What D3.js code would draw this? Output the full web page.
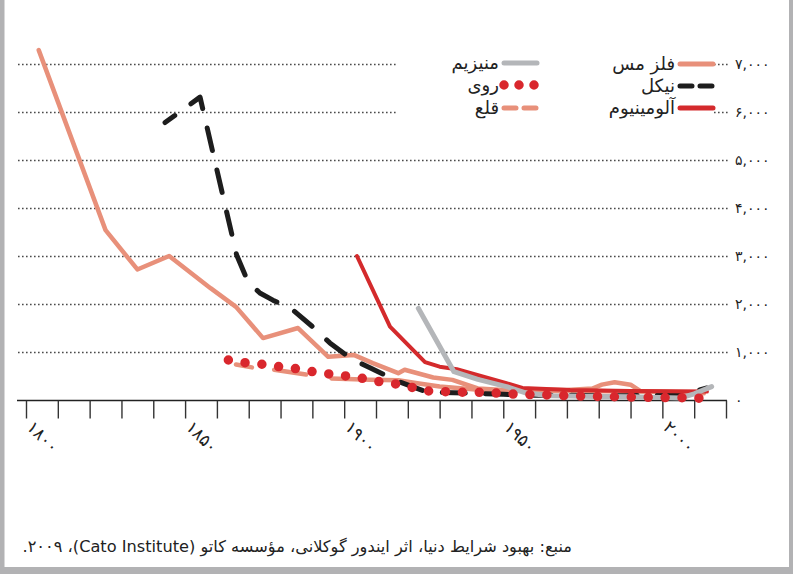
<!DOCTYPE html>
<html>
<head>
<meta charset="utf-8">
<script src="https://cdn.jsdelivr.net/npm/d3@7"></script>
<style>
  html, body { margin: 0; padding: 0; background: #fff; }
  svg { display: block; }
</style>
</head>
<body>
<svg id="chart" width="793" height="574"></svg>
<script>
// ---- data -------------------------------------------------------------
const tickYears  = d3.range(1800, 2021, 10);
const labelYears = [1800, 1850, 1900, 1950, 2000];
const priceTicks = [0, 1000, 2000, 3000, 4000, 5000, 6000, 7000];

const copperYears  = [1804, 1825, 1835, 1845, 1858, 1866, 1874.5, 1885.5, 1895, 1903, 1909, 1917, 1919, 1928, 1934, 1942, 1950, 1960, 1970, 1978, 1981, 1985, 1990, 1993, 2000, 2013];
const copperPrices = [7300, 3550, 2730, 3010, 2340, 1950, 1300, 1510, 910, 950, 780, 570, 640, 480, 430, 250, 220, 230, 220, 250, 330, 380, 330, 200, 180, 150];

const nickelYears  = [1843.7, 1854.7, 1866.2, 1869.8, 1873.5, 1877.6, 1883.9, 1890.2, 1895.5, 1901.8, 1908.1, 1917.5, 1925, 1930, 1940, 1950, 1960, 1970, 1980, 1990, 2000, 2008, 2014];
const nickelPrices = [5790, 6320, 3030, 2470, 2240, 2090, 1885, 1530, 1200, 885, 680, 385, 200, 170, 150, 130, 110, 110, 100, 100, 110, 150, 260];

const aluminiumYears  = [1904, 1914.4, 1925.4, 1930, 1935.4, 1951, 1956, 1971, 1990, 2014];
const aluminiumPrices = [3010, 1540, 800, 705, 650, 360, 260, 220, 200, 185];

const magnesiumYears  = [1923.3, 1934.5, 1942, 1951, 1957.5, 1965, 1975, 1990, 2005.5, 2010, 2015.5];
const magnesiumPrices = [1920, 600, 440, 290, 150, 100, 90, 80, 50, 140, 290];

const zincYears  = [1863.6, 1868.8, 1874.3, 1879.6, 1884.8, 1890.1, 1895.3, 1900.6, 1905.8, 1911, 1916.3, 1921.2, 1926.4, 1932.2, 1937.4, 1943.2, 1949, 1954.3, 1964.2, 1974.9, 1985.7, 1995.8, 2006.1, 2013.1];
const zincPrices = [844, 788, 754, 704, 663, 600, 552, 510, 460, 392, 344, 275, 198, 183, 171, 171, 150, 129, 115, 90, 77, 65, 58, 46];

// gaps in the tin record are marked with null
const tinYears  = [1866, 1871, null, 1878, 1888, null, 1896, 1908, 1917, 1923, 1930, 1945, 1960, 1975, 2000, 2013];
const tinPrices = [750, 690, null, 640, 540, null, 460, 430, 420, 360, 290, 210, 200, 200, 180, 170];

const seriesNames = ["فلز مس", "نیکل", "آلومینیوم", "منیزیم", "روی", "قلع"];
const sourceText = "منبع: بهبود شرایط دنیا، اثر ایندور گوکلانی، مؤسسه کاتو (Cato Institute)، ۲۰۰۹.";

// ---- helpers ----------------------------------------------------------
const faDigits = "۰۱۲۳۴۵۶۷۸۹";
const toFa = s => String(s).replace(/[0-9]/g, d => faDigits[+d]);
const zip = (xs, ys) => xs.map((x, i) => ({ year: x, value: ys[i] }));

const COPPER = "#e8907a", NICKEL = "#1d1d1d", ALUM = "#d42a2c",
      MAGNES = "#b4b6b9", ZINC = "#d9272d", GRID = "#4a4a4a";
const FONT = "'DejaVu Sans', sans-serif";

const svg = d3.select("#chart");
svg.append("rect").attr("width", 793).attr("height", 574).attr("fill", "#fff");

const x = d3.scaleLinear().domain([1800, 2020]).range([26, 726]);
const y = d3.scaleLinear().domain([0, 7000]).range([400.5, 64.5]);

// ---- frame ------------------------------------------------------------
const frame = svg.append("g").attr("fill", "#b2b2b4");
frame.append("rect").attr("x", 0).attr("y", 0).attr("width", 4.5).attr("height", 574);
frame.append("rect").attr("x", 789).attr("y", 0).attr("width", 4).attr("height", 574);
frame.append("rect").attr("x", 0).attr("y", 567).attr("width", 793).attr("height", 7);

// ---- horizontal dotted grid ---------------------------------------------
svg.append("g")
  .selectAll("line")
  .data(priceTicks.filter(d => d > 0))
  .join("line")
  .attr("x1", 18).attr("x2", 728)
  .attr("y1", d => y(d)).attr("y2", d => y(d))
  .attr("stroke", GRID).attr("stroke-width", 1.3)
  .attr("stroke-dasharray", "1.6 2.4");

// value labels on the right
svg.append("g")
  .selectAll("text")
  .data(priceTicks)
  .join("text")
  .attr("x", 735).attr("y", d => y(d))
  .attr("dy", "0.35em")
  .attr("font-family", FONT).attr("font-size", 14).attr("fill", "#222")
  .attr("letter-spacing", 1.2)
  .attr("direction", "ltr")
  .text(d => toFa(d3.format(",")(d)));

// ---- x axis ---------------------------------------------------------------
const xAxis = d3.axisBottom(x)
  .tickValues(tickYears)
  .tickSize(18)
  .tickSizeOuter(0)
  .tickFormat("");
const axisG = svg.append("g").attr("transform", "translate(0,400.5)").call(xAxis);
axisG.select(".domain").attr("d", "M17,0H727").attr("stroke", "#222").attr("stroke-width", 1.6);
axisG.selectAll(".tick line").attr("stroke", "#333").attr("stroke-width", 1.4);

svg.append("g")
  .selectAll("text")
  .data(labelYears)
  .join("text")
  .attr("transform", d => `translate(${x(d) + 4},${424}) rotate(45)`)
  .attr("dy", "0.35em")
  .attr("font-family", FONT).attr("font-size", 17).attr("fill", "#222")
  .attr("letter-spacing", 3)
  .attr("direction", "ltr")
  .text(d => toFa(d));

// ---- series -------------------------------------------------------------
const line = d3.line()
  .defined(d => d.year !== null && d.value !== null)
  .x(d => x(d.year)).y(d => y(d.value));

const plot = svg.append("g").attr("fill", "none").attr("stroke-linejoin", "round");

plot.append("path").datum(zip(copperYears, copperPrices))
  .attr("d", line).attr("stroke", COPPER).attr("stroke-width", 4.5).attr("stroke-linecap", "round");

plot.append("path").datum(zip(tinYears, tinPrices))
  .attr("d", line).attr("stroke", COPPER).attr("stroke-width", 4.5).attr("stroke-linecap", "round");

plot.append("path").datum(zip(nickelYears, nickelPrices))
  .attr("d", line).attr("stroke", NICKEL).attr("stroke-width", 5)
  .attr("stroke-linecap", "round").attr("stroke-dasharray", "23 20").attr("stroke-dashoffset", 11);

plot.append("path").datum(zip(aluminiumYears, aluminiumPrices))
  .attr("d", line).attr("stroke", ALUM).attr("stroke-width", 4).attr("stroke-linecap", "round");

plot.append("path").datum(zip(magnesiumYears, magnesiumPrices))
  .attr("d", line).attr("stroke", MAGNES).attr("stroke-width", 5).attr("stroke-linecap", "round");

plot.append("path").datum(zip(zincYears, zincPrices))
  .attr("d", line).attr("stroke", ZINC).attr("stroke-width", 9.5)
  .attr("stroke-linecap", "round").attr("stroke-dasharray", "0 16.9");

// ---- legend ---------------------------------------------------------------
const legend = svg.append("g");
legend.append("rect").attr("x", 396).attr("y", 48).attr("width", 316).attr("height", 76).attr("fill", "#fff");

const legendItems = [
  { name: seriesNames[0], x: 678, y: 64,  kind: "solid",  color: COPPER },
  { name: seriesNames[1], x: 678, y: 86,  kind: "dash",   color: NICKEL },
  { name: seriesNames[2], x: 678, y: 108, kind: "solid",  color: ALUM },
  { name: seriesNames[3], x: 502, y: 63,  kind: "solid",  color: MAGNES },
  { name: seriesNames[4], x: 502, y: 85,  kind: "dots",   color: ZINC },
  { name: seriesNames[5], x: 502, y: 108, kind: "dash",   color: COPPER }
];
legendItems.forEach(it => {
  const g = legend.append("g");
  const sw = it.kind === "dots" ? 9.5 : 5;
  const ln = g.append("line")
    .attr("x1", it.x + 2).attr("x2", it.x + 35)
    .attr("y1", it.y).attr("y2", it.y)
    .attr("stroke", it.color).attr("stroke-width", sw).attr("stroke-linecap", "round");
  if (it.kind === "dash") ln.attr("stroke-dasharray", "12 8");
  if (it.kind === "dots") ln.attr("stroke-dasharray", "0 15");
  g.append("text")
    .attr("x", it.x - 3).attr("y", it.y).attr("dy", "0.33em")
    .attr("text-anchor", "end")
    .attr("font-family", FONT).attr("font-size", 18).attr("fill", "#222")
    .text(it.name);
});

// ---- source note --------------------------------------------------------
svg.append("text")
  .attr("x", 572).attr("y", 552)
  .attr("direction", "rtl")
  .attr("text-anchor", "start")
  .attr("font-family", FONT).attr("font-size", 16.2).attr("fill", "#222")
  .text(sourceText);
</script>
</body>
</html>
